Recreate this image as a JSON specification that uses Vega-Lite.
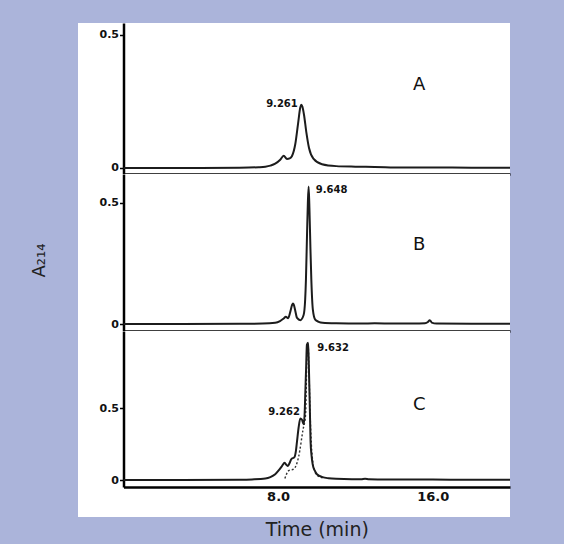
{
  "$schema": "https://vega.github.io/schema/vega-lite/v6.json",
  "background": "#abb4da",
  "padding": {"left": 30, "top": 23, "right": 56, "bottom": 7},
  "spacing": 0,
  "bounds": "flush",
  "config": {
    "view": {"stroke": null, "fill": "white"},
    "axis": {"grid": false, "domainColor": "#000", "domainWidth": 2.5, "tickColor": "#000", "labelColor": "#111", "labelFont": "DejaVu Sans", "labelFontWeight": "bold"}
  },
  "datasets": {
    "traces": [
      {"panel": "A", "series": "solid", "time": 0, "value": 0},
      {"panel": "A", "series": "solid", "time": 2, "value": 0},
      {"panel": "A", "series": "solid", "time": 4, "value": 0},
      {"panel": "A", "series": "solid", "time": 6, "value": 0.001},
      {"panel": "A", "series": "solid", "time": 7, "value": 0.003},
      {"panel": "A", "series": "solid", "time": 7.34, "value": 0.005},
      {"panel": "A", "series": "solid", "time": 7.6, "value": 0.009},
      {"panel": "A", "series": "solid", "time": 7.85, "value": 0.016},
      {"panel": "A", "series": "solid", "time": 8.11, "value": 0.031},
      {"panel": "A", "series": "solid", "time": 8.29, "value": 0.046},
      {"panel": "A", "series": "solid", "time": 8.46, "value": 0.034},
      {"panel": "A", "series": "solid", "time": 8.6, "value": 0.036},
      {"panel": "A", "series": "solid", "time": 8.72, "value": 0.045},
      {"panel": "A", "series": "solid", "time": 8.89, "value": 0.09},
      {"panel": "A", "series": "solid", "time": 9.03, "value": 0.165},
      {"panel": "A", "series": "solid", "time": 9.15, "value": 0.228},
      {"panel": "A", "series": "solid", "time": 9.2, "value": 0.238},
      {"panel": "A", "series": "solid", "time": 9.26, "value": 0.23},
      {"panel": "A", "series": "solid", "time": 9.34, "value": 0.2},
      {"panel": "A", "series": "solid", "time": 9.46, "value": 0.135},
      {"panel": "A", "series": "solid", "time": 9.6, "value": 0.075},
      {"panel": "A", "series": "solid", "time": 9.84, "value": 0.034},
      {"panel": "A", "series": "solid", "time": 10.27, "value": 0.014},
      {"panel": "A", "series": "solid", "time": 11, "value": 0.007},
      {"panel": "A", "series": "solid", "time": 12, "value": 0.005},
      {"panel": "A", "series": "solid", "time": 13, "value": 0.004},
      {"panel": "A", "series": "solid", "time": 14.4, "value": 0.002},
      {"panel": "A", "series": "solid", "time": 16, "value": 0.002},
      {"panel": "A", "series": "solid", "time": 18, "value": 0.001},
      {"panel": "A", "series": "solid", "time": 20, "value": 0.001},

      {"panel": "B", "series": "solid", "time": 0, "value": 0},
      {"panel": "B", "series": "solid", "time": 3, "value": 0},
      {"panel": "B", "series": "solid", "time": 6, "value": 0.001},
      {"panel": "B", "series": "solid", "time": 7.2, "value": 0.002},
      {"panel": "B", "series": "solid", "time": 7.85, "value": 0.005},
      {"panel": "B", "series": "solid", "time": 8.1, "value": 0.012},
      {"panel": "B", "series": "solid", "time": 8.29, "value": 0.023},
      {"panel": "B", "series": "solid", "time": 8.4, "value": 0.03},
      {"panel": "B", "series": "solid", "time": 8.52, "value": 0.024},
      {"panel": "B", "series": "solid", "time": 8.63, "value": 0.05},
      {"panel": "B", "series": "solid", "time": 8.72, "value": 0.078},
      {"panel": "B", "series": "solid", "time": 8.77, "value": 0.085},
      {"panel": "B", "series": "solid", "time": 8.82, "value": 0.078},
      {"panel": "B", "series": "solid", "time": 8.88, "value": 0.058},
      {"panel": "B", "series": "solid", "time": 8.98, "value": 0.025},
      {"panel": "B", "series": "solid", "time": 9.15, "value": 0.016},
      {"panel": "B", "series": "solid", "time": 9.32, "value": 0.037},
      {"panel": "B", "series": "solid", "time": 9.4, "value": 0.1},
      {"panel": "B", "series": "solid", "time": 9.44, "value": 0.181},
      {"panel": "B", "series": "solid", "time": 9.5, "value": 0.38},
      {"panel": "B", "series": "solid", "time": 9.54, "value": 0.5},
      {"panel": "B", "series": "solid", "time": 9.58, "value": 0.566},
      {"panel": "B", "series": "solid", "time": 9.62, "value": 0.48},
      {"panel": "B", "series": "solid", "time": 9.67, "value": 0.32},
      {"panel": "B", "series": "solid", "time": 9.72, "value": 0.181},
      {"panel": "B", "series": "solid", "time": 9.8, "value": 0.058},
      {"panel": "B", "series": "solid", "time": 9.92, "value": 0.018},
      {"panel": "B", "series": "solid", "time": 10.1, "value": 0.009},
      {"panel": "B", "series": "solid", "time": 10.3, "value": 0.005},
      {"panel": "B", "series": "solid", "time": 11, "value": 0.003},
      {"panel": "B", "series": "solid", "time": 12.3, "value": 0.002},
      {"panel": "B", "series": "solid", "time": 13, "value": 0.003},
      {"panel": "B", "series": "solid", "time": 14, "value": 0.002},
      {"panel": "B", "series": "solid", "time": 15, "value": 0.002},
      {"panel": "B", "series": "solid", "time": 15.6, "value": 0.003},
      {"panel": "B", "series": "solid", "time": 15.75, "value": 0.008},
      {"panel": "B", "series": "solid", "time": 15.85, "value": 0.016},
      {"panel": "B", "series": "solid", "time": 15.95, "value": 0.006},
      {"panel": "B", "series": "solid", "time": 16.2, "value": 0.002},
      {"panel": "B", "series": "solid", "time": 18, "value": 0.001},
      {"panel": "B", "series": "solid", "time": 20, "value": 0.001},

      {"panel": "C", "series": "solid", "time": 0, "value": 0},
      {"panel": "C", "series": "solid", "time": 3, "value": 0},
      {"panel": "C", "series": "solid", "time": 6, "value": 0.002},
      {"panel": "C", "series": "solid", "time": 6.65, "value": 0.004},
      {"panel": "C", "series": "solid", "time": 7.34, "value": 0.01},
      {"panel": "C", "series": "solid", "time": 7.6, "value": 0.02},
      {"panel": "C", "series": "solid", "time": 7.85, "value": 0.04},
      {"panel": "C", "series": "solid", "time": 8.05, "value": 0.07},
      {"panel": "C", "series": "solid", "time": 8.2, "value": 0.097},
      {"panel": "C", "series": "solid", "time": 8.34, "value": 0.12},
      {"panel": "C", "series": "solid", "time": 8.43, "value": 0.105},
      {"panel": "C", "series": "solid", "time": 8.51, "value": 0.097},
      {"panel": "C", "series": "solid", "time": 8.6, "value": 0.12},
      {"panel": "C", "series": "solid", "time": 8.68, "value": 0.144},
      {"panel": "C", "series": "solid", "time": 8.85, "value": 0.16},
      {"panel": "C", "series": "solid", "time": 8.92, "value": 0.2},
      {"panel": "C", "series": "solid", "time": 8.98, "value": 0.27},
      {"panel": "C", "series": "solid", "time": 9.06, "value": 0.363},
      {"panel": "C", "series": "solid", "time": 9.15, "value": 0.428},
      {"panel": "C", "series": "solid", "time": 9.23, "value": 0.42},
      {"panel": "C", "series": "solid", "time": 9.32, "value": 0.387},
      {"panel": "C", "series": "solid", "time": 9.37, "value": 0.45},
      {"panel": "C", "series": "solid", "time": 9.4, "value": 0.57},
      {"panel": "C", "series": "solid", "time": 9.45, "value": 0.78},
      {"panel": "C", "series": "solid", "time": 9.49, "value": 0.94},
      {"panel": "C", "series": "solid", "time": 9.55, "value": 0.953},
      {"panel": "C", "series": "solid", "time": 9.58, "value": 0.85},
      {"panel": "C", "series": "solid", "time": 9.61, "value": 0.69},
      {"panel": "C", "series": "solid", "time": 9.65, "value": 0.45},
      {"panel": "C", "series": "solid", "time": 9.68, "value": 0.27},
      {"panel": "C", "series": "solid", "time": 9.73, "value": 0.17},
      {"panel": "C", "series": "solid", "time": 9.79, "value": 0.109},
      {"panel": "C", "series": "solid", "time": 9.9, "value": 0.065},
      {"panel": "C", "series": "solid", "time": 10.01, "value": 0.04},
      {"panel": "C", "series": "solid", "time": 10.3, "value": 0.02},
      {"panel": "C", "series": "solid", "time": 10.61, "value": 0.012},
      {"panel": "C", "series": "solid", "time": 11, "value": 0.008},
      {"panel": "C", "series": "solid", "time": 11.82, "value": 0.006},
      {"panel": "C", "series": "solid", "time": 12.3, "value": 0.006},
      {"panel": "C", "series": "solid", "time": 12.5, "value": 0.009},
      {"panel": "C", "series": "solid", "time": 12.7, "value": 0.006},
      {"panel": "C", "series": "solid", "time": 14, "value": 0.004},
      {"panel": "C", "series": "solid", "time": 16, "value": 0.003},
      {"panel": "C", "series": "solid", "time": 18, "value": 0.002},
      {"panel": "C", "series": "solid", "time": 20, "value": 0.002},

      {"panel": "C", "series": "dotted", "time": 8.35, "value": 0.01},
      {"panel": "C", "series": "dotted", "time": 8.55, "value": 0.065},
      {"panel": "C", "series": "dotted", "time": 8.8, "value": 0.075},
      {"panel": "C", "series": "dotted", "time": 9.06, "value": 0.16},
      {"panel": "C", "series": "dotted", "time": 9.29, "value": 0.35},
      {"panel": "C", "series": "dotted", "time": 9.42, "value": 0.45},
      {"panel": "C", "series": "dotted", "time": 9.5, "value": 0.9},
      {"panel": "C", "series": "dotted", "time": 9.55, "value": 0.953},
      {"panel": "C", "series": "dotted", "time": 9.6, "value": 0.75},
      {"panel": "C", "series": "dotted", "time": 9.66, "value": 0.45},
      {"panel": "C", "series": "dotted", "time": 9.72, "value": 0.25},
      {"panel": "C", "series": "dotted", "time": 9.8, "value": 0.12},
      {"panel": "C", "series": "dotted", "time": 9.9, "value": 0.06},
      {"panel": "C", "series": "dotted", "time": 10.05, "value": 0.03},
      {"panel": "C", "series": "dotted", "time": 10.3, "value": 0.015}
    ],
    "labels": [
      {"panel": "A", "kind": "peak", "time": 8.2, "value": 0.24, "label": "9.261"},
      {"panel": "B", "kind": "peak", "time": 10.77, "value": 0.552, "label": "9.648"},
      {"panel": "C", "kind": "peak", "time": 10.85, "value": 0.919, "label": "9.632"},
      {"panel": "C", "kind": "peak", "time": 8.31, "value": 0.472, "label": "9.262"},
      {"panel": "A", "kind": "letter", "time": 15.3, "value": 0.312, "label": "A"},
      {"panel": "B", "kind": "letter", "time": 15.3, "value": 0.325, "label": "B"},
      {"panel": "C", "kind": "letter", "time": 15.3, "value": 0.52, "label": "C"}
    ]
  },
  "vconcat": [
    {
      "width": 432,
      "height": 151,
      "encoding": {
        "x": {"field": "time", "type": "quantitative", "scale": {"domain": [0, 20], "range": [45.5, 432], "nice": false, "zero": false},
              "axis": {"labels": false, "ticks": false, "title": null}},
        "y": {"field": "value", "type": "quantitative", "scale": {"domain": [-0.0226, 0.545], "nice": false, "zero": false},
              "axis": {"values": [0, 0.5], "format": "~g", "offset": -45.5, "tickSize": 4, "tickWidth": 1.5, "labelFontSize": 11, "labelPadding": 1, "title": null}}
      },
      "layer": [
        {"data": {"name": "traces"}, "transform": [{"filter": "datum.panel === 'A'"}],
         "mark": {"type": "line", "color": "#1c1c1c", "strokeWidth": 2, "interpolate": "monotone"}},
        {"data": {"name": "labels"}, "transform": [{"filter": "datum.panel === 'A' && datum.kind === 'peak'"}],
         "mark": {"type": "text", "font": "DejaVu Sans", "fontWeight": "bold", "fontSize": 10, "color": "#111", "baseline": "middle"},
         "encoding": {"text": {"field": "label"}}},
        {"data": {"name": "labels"}, "transform": [{"filter": "datum.panel === 'A' && datum.kind === 'letter'"}],
         "mark": {"type": "text", "font": "DejaVu Sans", "fontSize": 18, "color": "#111", "baseline": "middle"},
         "encoding": {"text": {"field": "label"}}}
      ]
    },
    {
      "width": 432,
      "height": 157,
      "encoding": {
        "x": {"field": "time", "type": "quantitative", "scale": {"domain": [0, 20], "range": [45.5, 432], "nice": false, "zero": false},
              "axis": {"labels": false, "ticks": false, "title": null}},
        "y": {"field": "value", "type": "quantitative", "scale": {"domain": [-0.0288, 0.618], "nice": false, "zero": false},
              "axis": {"values": [0, 0.5], "format": "~g", "offset": -45.5, "tickSize": 4, "tickWidth": 1.5, "labelFontSize": 11, "labelPadding": 1,
                       "title": "A₂₁₄", "titleFont": "DejaVu Sans", "titleFontSize": 18, "titleFontWeight": "normal", "titleColor": "#222",
                       "titleAngle": -90, "titleX": -79.5, "titleY": 86, "titleAlign": "center", "titleBaseline": "alphabetic"}}
      },
      "layer": [
        {"data": {"name": "traces"}, "transform": [{"filter": "datum.panel === 'B'"}],
         "mark": {"type": "line", "color": "#1c1c1c", "strokeWidth": 2, "interpolate": "monotone"}},
        {"data": {"name": "labels"}, "transform": [{"filter": "datum.panel === 'B' && datum.kind === 'peak'"}],
         "mark": {"type": "text", "font": "DejaVu Sans", "fontWeight": "bold", "fontSize": 10, "color": "#111", "baseline": "middle"},
         "encoding": {"text": {"field": "label"}}},
        {"data": {"name": "labels"}, "transform": [{"filter": "datum.panel === 'B' && datum.kind === 'letter'"}],
         "mark": {"type": "text", "font": "DejaVu Sans", "fontSize": 18, "color": "#111", "baseline": "middle"},
         "encoding": {"text": {"field": "label"}}}
      ]
    },
    {
      "width": 432,
      "height": 186,
      "encoding": {
        "x": {"field": "time", "type": "quantitative", "scale": {"domain": [0, 20], "range": [45.5, 432], "nice": false, "zero": false},
              "axis": {"values": [8, 16], "format": ".1f", "offset": -30, "ticks": false, "labelFontSize": 13, "labelPadding": 3,
                       "title": "Time (min)", "titleFont": "DejaVu Sans", "titleFontSize": 19, "titleFontWeight": "normal", "titleColor": "#222", "titlePadding": 17}},
        "y": {"field": "value", "type": "quantitative", "scale": {"domain": [-0.0486, 1.035], "range": [156, 0], "nice": false, "zero": false},
              "axis": {"values": [0, 0.5], "format": "~g", "offset": -45.5, "tickSize": 4, "tickWidth": 1.5, "labelFontSize": 11, "labelPadding": 1, "title": null}}
      },
      "layer": [
        {"data": {"name": "traces"}, "transform": [{"filter": "datum.panel === 'C' && datum.series === 'dotted'"}],
         "mark": {"type": "line", "color": "#333", "strokeWidth": 1.4, "strokeDash": [2, 2], "interpolate": "monotone"}},
        {"data": {"name": "traces"}, "transform": [{"filter": "datum.panel === 'C' && datum.series === 'solid'"}],
         "mark": {"type": "line", "color": "#1c1c1c", "strokeWidth": 2, "interpolate": "monotone"}},
        {"data": {"name": "labels"}, "transform": [{"filter": "datum.panel === 'C' && datum.kind === 'peak'"}],
         "mark": {"type": "text", "font": "DejaVu Sans", "fontWeight": "bold", "fontSize": 10, "color": "#111", "baseline": "middle"},
         "encoding": {"text": {"field": "label"}}},
        {"data": {"name": "labels"}, "transform": [{"filter": "datum.panel === 'C' && datum.kind === 'letter'"}],
         "mark": {"type": "text", "font": "DejaVu Sans", "fontSize": 18, "color": "#111", "baseline": "middle"},
         "encoding": {"text": {"field": "label"}}}
      ]
    }
  ]
}
